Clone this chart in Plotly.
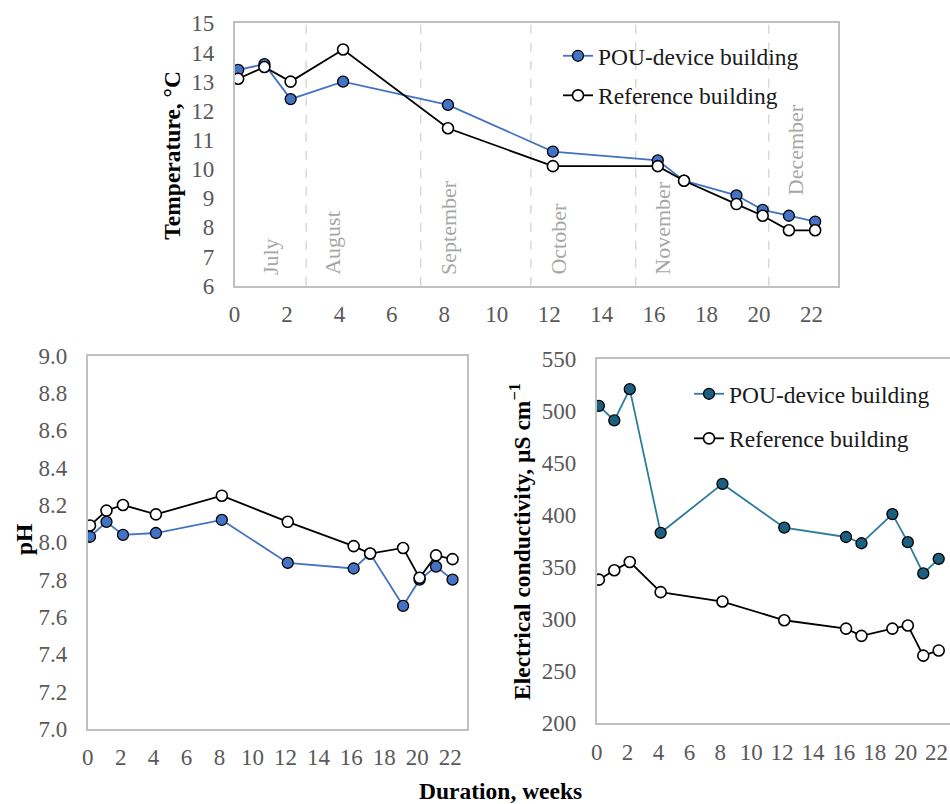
import plotly.graph_objects as go

# Sampling times (weeks since start)
weeks = [0.14, 1.14, 2.14, 4.14, 8.14, 12.14, 16.14, 17.14, 19.14, 20.14, 21.14, 22.14]

# Water temperature, °C
temp_pou = [13.4, 13.6, 12.4, 13.0, 12.2, 10.6, 10.3, 9.6, 9.1, 8.6, 8.4, 8.2]
temp_ref = [13.1, 13.5, 13.0, 14.1, 11.4, 10.1, 10.1, 9.6, 8.8, 8.4, 7.9, 7.9]

# pH
ph_pou = [8.03, 8.11, 8.04, 8.05, 8.12, 7.89, 7.86, 7.94, 7.66, 7.80, 7.87, 7.80]
ph_ref = [8.09, 8.17, 8.20, 8.15, 8.25, 8.11, 7.98, 7.94, 7.97, 7.81, 7.93, 7.91]

# Electrical conductivity, µS/cm
ec_pou = [505, 491, 521, 383, 430, 388, 379, 373, 401, 374, 344, 358]
ec_ref = [338, 347, 355, 326, 317, 299, 291, 284, 291, 294, 265, 270]

# Month boundaries and month label positions (weeks)
month_bounds = [2.73, 7.10, 11.30, 15.30, 20.37]
month_names = ["July", "August", "September", "October", "November", "December"]
month_label_x = [1.35, 3.76, 8.13, 12.37, 16.34, 21.37]
month_label_y = [6.31, 6.31, 6.31, 6.31, 6.31, 9.05]

x_ticks = list(range(0, 23, 2))

W, H = 950, 804
FONT = "Liberation Serif, Times New Roman, serif"
TICK_COLOR = "#595959"
BORDER = "#c0c0c0"
BLUE = "#4472C4"
TEAL_FILL = "#1d5f80"
TEAL_LINE = "#2e7c9e"


def px(x):
    return x / W


def py(y):
    return 1 - y / H


fig = go.Figure()


def add_pair(xa, ya, y_pou, y_ref, fill, line, legend):
    fig.add_trace(go.Scatter(
        x=weeks, y=y_pou, xaxis=xa, yaxis=ya, mode="lines+markers",
        name="POU-device building", legendgroup="pou" + xa, legend=legend,
        showlegend=legend is not None,
        line=dict(color=line, width=1.8),
        marker=dict(symbol="circle", size=11, color=fill,
                    line=dict(color="black", width=1.3)),
    ))
    fig.add_trace(go.Scatter(
        x=weeks, y=y_ref, xaxis=xa, yaxis=ya, mode="lines+markers",
        name="Reference building", legendgroup="ref" + xa, legend=legend,
        showlegend=legend is not None,
        line=dict(color="black", width=1.8),
        marker=dict(symbol="circle", size=11, color="white",
                    line=dict(color="black", width=1.6)),
    ))


add_pair("x", "y", temp_pou, temp_ref, BLUE, BLUE, "legend")
add_pair("x2", "y2", ph_pou, ph_ref, BLUE, BLUE, None)
add_pair("x3", "y3", ec_pou, ec_ref, TEAL_FILL, TEAL_LINE, "legend2")

tick_font = dict(family=FONT, size=23, color=TICK_COLOR)
axis_common = dict(showgrid=False, zeroline=False, showline=True,
                   linecolor=BORDER, linewidth=1.5, ticks="", automargin=False,
                   tickfont=tick_font, fixedrange=True)
x_common = dict(ticklabelstandoff=7, **axis_common)
y_common = dict(ticklabelstandoff=14, **axis_common)

legend_font = dict(family=FONT, size=23.5, color="#1a1a1a")

fig.update_layout(
    width=W, height=H,
    margin=dict(l=0, r=0, t=0, b=0),
    paper_bgcolor="white", plot_bgcolor="white",
    font=dict(family=FONT, size=23, color="black"),
    # temperature panel
    xaxis=dict(domain=[px(234.5), px(837.7)], anchor="y", range=[0, 23],
               tickvals=x_ticks, mirror=True, **x_common),
    yaxis=dict(domain=[py(285.7), py(23.3)], anchor="x", range=[6, 15],
               dtick=1, mirror=True, **y_common),
    # pH panel
    xaxis2=dict(domain=[px(87.7), px(466.7)], anchor="y2", range=[0, 23],
                tickvals=x_ticks, mirror=True, **x_common),
    yaxis2=dict(domain=[py(729), py(355.7)], anchor="x2", range=[7, 9],
                dtick=0.2, tickformat=".1f", mirror=True, **y_common),
    # conductivity panel
    xaxis3=dict(domain=[px(596.7), 1.0], anchor="y3", range=[0, 22.87],
                tickvals=x_ticks, mirror=True, **x_common),
    yaxis3=dict(domain=[py(723.3), py(359)], anchor="x3", range=[200, 550],
                dtick=50, mirror=False, **y_common),
    legend=dict(x=px(558), y=py(34), xanchor="left", yanchor="top",
                bgcolor="rgba(0,0,0,0)", font=legend_font,
                tracegroupgap=6, traceorder="grouped"),
    legend2=dict(x=px(689), y=py(372), xanchor="left", yanchor="top",
                 bgcolor="rgba(0,0,0,0)", font=legend_font,
                 tracegroupgap=11, traceorder="grouped"),
)

# dashed month boundaries in the temperature panel
for xb in month_bounds:
    fig.add_shape(type="line", xref="x", yref="y domain", x0=xb, x1=xb, y0=0, y1=1,
                  line=dict(color="#d4d4d4", width=1.3, dash="dash"), layer="below")

# rotated month names
for name, mx, my in zip(month_names, month_label_x, month_label_y):
    fig.add_annotation(x=mx, y=my, xref="x", yref="y", text=name, textangle=-90,
                       showarrow=False, xanchor="center", yanchor="bottom",
                       font=dict(family=FONT, size=22, color="#a6a6a6"))

# axis titles
title_font = dict(family=FONT, size=23.5, color="black")
fig.add_annotation(x=px(171.7), y=py(155), xref="paper", yref="paper",
                   text="<b>Temperature, °C</b>", textangle=-90, showarrow=False,
                   xanchor="center", yanchor="middle", font=title_font)
fig.add_annotation(x=px(24), y=py(540), xref="paper", yref="paper",
                   text="<b>pH</b>", textangle=-90, showarrow=False,
                   xanchor="center", yanchor="middle", font=title_font)
fig.add_annotation(x=px(520), y=py(542), xref="paper", yref="paper",
                   text="<b>Electrical conductivity, µS cm<sup>−1</sup></b>", textangle=-90,
                   showarrow=False, xanchor="center", yanchor="middle", font=title_font)
fig.add_annotation(x=px(500.5), y=py(791), xref="paper", yref="paper",
                   text="<b>Duration, weeks</b>", showarrow=False,
                   xanchor="center", yanchor="middle", font=title_font)

fig.write_html("out.html")
